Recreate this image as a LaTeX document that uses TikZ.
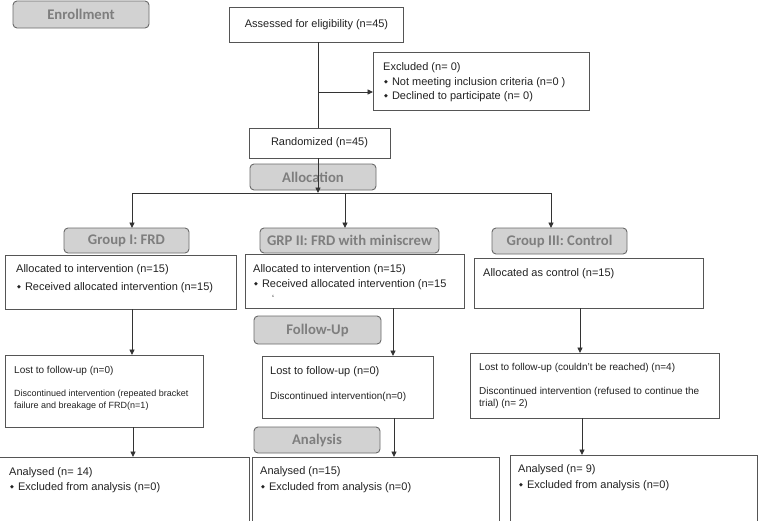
\documentclass[tikz,border=0pt]{standalone}
\usepackage{fontspec}
\setmainfont{Liberation Sans}
\newfontfamily\hdrfont{Carlito}
\newfontfamily\symfont{DejaVu Sans}
\usetikzlibrary{arrows.meta}
\definecolor{hdrfill}{HTML}{D2D2D2}
\definecolor{hdrline}{HTML}{6A6A6A}
\definecolor{hdrtext}{HTML}{7E7E7E}
\definecolor{boxline}{HTML}{555555}
\definecolor{txt}{HTML}{222222}
\definecolor{conn}{HTML}{333333}
\newcommand\bul{\raisebox{2pt}{\symfont\fontsize{5}{5}\selectfont ◆}\hspace{4pt}}
\tikzset{
  box/.style={draw=boxline, line width=0.9pt, inner sep=0pt, outer sep=0pt, anchor=north west},
  hdr/.style={draw=hdrline, fill=hdrfill, line width=0.9pt, rounded corners=4pt, inner sep=0pt, outer sep=0pt, anchor=north west},
  hdrtxt/.style={inner sep=0pt, text=hdrtext, font=\hdrfont\bfseries\fontsize{14.7}{16}\selectfont},
  t11/.style={inner sep=0pt, anchor=west, text=txt, font=\fontsize{11}{13}\selectfont},
  t10/.style={inner sep=0pt, anchor=west, text=txt, font=\fontsize{10}{12}\selectfont},
  t9/.style={inner sep=0pt, anchor=west, text=txt, font=\fontsize{9}{11}\selectfont},
  line/.style={draw=conn, line width=0.9pt},
  arr/.style={line, -{Triangle[length=5.5pt,width=5pt]}}
}
\begin{document}
\begin{tikzpicture}[x=1pt,y=-1pt]
\useasboundingbox (0,0) rectangle (758,520);
\clip (0,0) rectangle (758,520);
\fill[white] (0,0) rectangle (758,520);

% header labels
\node[hdr, minimum width=136, minimum height=27] (enroll) at (13,1) {};
\node[hdrtxt] (enrollT) at (enroll.center) {Enrollment};

% assessed
\node[box, minimum width=174, minimum height=35] (assessed) at (229,7) {};
\node[t11, anchor=center] (assessedT) at (316.5,24.5) {Assessed for eligibility (n=45)};

% excluded
\node[box, minimum width=216, minimum height=58] (excl) at (373,52) {};
\node[t11] (exclT1) at (383,68) {Excluded (n= 0)};
\node[t11] (exclT2) at (384,83) {\bul Not meeting inclusion criteria (n=0 )};
\node[t11] (exclT3) at (384,97) {\bul Declined to participate (n= 0)};

% randomized
\node[box, minimum width=141, minimum height=30] (rand) at (249,128) {};
\node[t11, anchor=center] (randT) at (319.5,143) {Randomized (n=45)};

% allocation header
\node[hdr, minimum width=126, minimum height=26] (allocH) at (250,164) {};
\node[hdrtxt] (allocHT) at (allocH.center) {Allocation};

% group headers
\node[hdr, minimum width=125, minimum height=25] (g1) at (64,228) {};
\node[hdrtxt] (g1T) at (g1.center) {Group I: FRD};
\node[hdr, minimum width=179, minimum height=25] (g2) at (260,228) {};
\node[hdrtxt] (g2T) at (g2.center) {GRP II: FRD with miniscrew};
\node[hdr, minimum width=135, minimum height=26] (g3) at (492,228) {};
\node[hdrtxt] (g3T) at (g3.center) {Group III: Control};

% allocated boxes
\node[box, minimum width=231, minimum height=54] (a1) at (5,255) {};
\node[t11] (a1T1) at (16,270) {Allocated to intervention (n=15)};
\node[t11] (a1T2) at (17,288) {\bul Received allocated intervention (n=15)};
\node[box, minimum width=219, minimum height=54] (a2) at (245,254) {};
\node[t11] (a2T1) at (253,270) {Allocated to intervention (n=15)};
\node[t11] (a2T2) at (254,285) {\bul Received allocated intervention (n=15};
\node[t9] (a2T3) at (272,298) {`};
\node[box, minimum width=229, minimum height=50] (a3) at (474,258) {};
\node[t11] (a3T1) at (483,274) {Allocated as control (n=15)};

% follow-up header
\node[hdr, minimum width=127, minimum height=28] (fu) at (254,316) {};
\node[hdrtxt] (fuT) at (fu.center) {Follow-Up};

% lost boxes
\node[box, minimum width=198, minimum height=72] (l1) at (5,355) {};
\node[t10] (l1T1) at (14,371) {Lost to follow-up (n=0)};
\node[t9] (l1T2) at (14,394) {Discontinued intervention (repeated bracket};
\node[t9] (l1T3) at (14,406) {failure and breakage of FRD(n=1)};
\node[box, minimum width=171, minimum height=62] (l2) at (262,356) {};
\node[t11] (l2T1) at (270,372) {Lost to follow-up (n=0)};
\node[t10] (l2T2) at (270,397) {Discontinued intervention(n=0)};
\node[box, minimum width=249, minimum height=65] (l3) at (470,353) {};
\node[t10] (l3T1) at (479,368) {Lost to follow-up (couldn’t be reached) (n=4)};
\node[t10] (l3T2) at (479,392) {Discontinued intervention (refused to continue the};
\node[t10] (l3T3) at (479,404) {trial) (n= 2)};

% analysis header
\node[hdr, minimum width=126, minimum height=26] (an) at (254,427) {};
\node[hdrtxt] (anT) at (an.center) {Analysis};

% analysed boxes
\node[box, minimum width=250, minimum height=80] (n1) at (-1,457) {};
\node[t11] (n1T1) at (9,473) {Analysed (n= 14)};
\node[t11] (n1T2) at (10,488) {\bul Excluded from analysis (n=0)};
\node[box, minimum width=247, minimum height=80] (n2) at (252,457) {};
\node[t11] (n2T1) at (260,472) {Analysed (n=15)};
\node[t11] (n2T2) at (261,488) {\bul Excluded from analysis (n=0)};
\node[box, minimum width=247, minimum height=80] (n3) at (510,455) {};
\node[t11] (n3T1) at (518,470) {Analysed (n= 9)};
\node[t11] (n3T2) at (519,486) {\bul Excluded from analysis (n=0)};

% connectors
\coordinate (spine) at (318,0);
\coordinate (exclArr) at (318,92);
\coordinate (split) at (318,193);
\coordinate (c1) at (132,193);
\coordinate (c2) at (345,193);
\coordinate (c3) at (551,193);
\draw[line] (assessed.south -| spine) -- (rand.north -| spine);
\draw[arr] (exclArr) -- (excl.west |- exclArr);
\draw[arr] (rand.south -| spine) -- (split);
\draw[line] (c1) -- (c3);
\draw[arr] (c1) -- (g1.north -| c1);
\draw[arr] (c2) -- (g2.north -| c2);
\draw[arr] (c3) -- (g3.north -| c3);

\coordinate (k1) at (132,0);
\coordinate (k1b) at (133,0);
\coordinate (k2) at (393,0);
\coordinate (k2b) at (394,0);
\coordinate (k3) at (580,0);
\coordinate (k3b) at (582,0);
\draw[arr] (a1.south -| k1) -- (l1.north -| k1);
\draw[arr] (l1.south -| k1b) -- (n1.north -| k1b);
\draw[arr] (a2.south -| k2) -- (l2.north -| k2);
\draw[arr] (l2.south -| k2b) -- (n2.north -| k2b);
\draw[arr] (a3.south -| k3) -- (l3.north -| k3);
\draw[arr] (l3.south -| k3b) -- (n3.north -| k3b);
\end{tikzpicture}
\end{document}
